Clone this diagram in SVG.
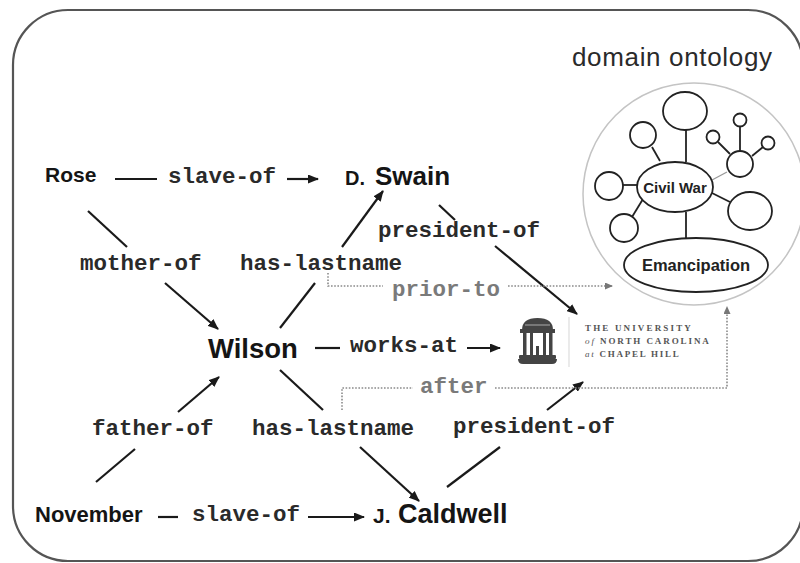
<svg xmlns="http://www.w3.org/2000/svg" width="800" height="563" viewBox="0 0 800 563">
<defs>
<marker id="arr" markerWidth="11" markerHeight="9" refX="10" refY="4.5" orient="auto" markerUnits="userSpaceOnUse">
<path d="M0,0 L11,4.5 L0,9 Z" fill="#1a1a1a"/>
</marker>
<marker id="darr" markerWidth="8" markerHeight="7" refX="7" refY="3.5" orient="auto" markerUnits="userSpaceOnUse">
<path d="M0,0 L8,3.5 L0,7 Z" fill="#777"/>
</marker>
<style>
.name{font-family:"Liberation Sans",Arial,sans-serif;font-weight:bold;fill:#151515}
.lbl{font-family:"Liberation Mono","Courier New",monospace;font-weight:bold;font-size:22.5px;fill:#2a2a2a}
.glbl{font-family:"Liberation Mono","Courier New",monospace;font-weight:bold;font-size:22.5px;fill:#7a7a7a}
.ln{stroke:#1a1a1a;stroke-width:2.2;fill:none}
.dot{stroke:#8a8a8a;stroke-width:1.6;stroke-dasharray:1.6 1.6;fill:none}
.ont{stroke:#222;stroke-width:1.8;fill:#fff}
.ontl{stroke:#222;stroke-width:1.8}
.ot{font-family:"Liberation Sans",Arial,sans-serif;font-weight:bold;fill:#222;text-anchor:middle}
.logo{font-family:"Liberation Serif","Times New Roman",serif;font-weight:bold;font-size:9px;fill:#555}
</style>
</defs>
<rect x="13" y="10" width="790" height="551" rx="55" ry="55" fill="#fff" stroke="#555" stroke-width="2.2"/>

<g id="ontology">
<text x="572" y="66" font-family="Liberation Sans, Arial, sans-serif" font-size="26" fill="#2a2a2a" textLength="200">domain ontology</text>
<circle cx="694" cy="194" r="111" fill="none" stroke="#c4c4c4" stroke-width="1.5"/>
<line class="ontl" x1="686" y1="130" x2="686" y2="162"/>
<line class="ontl" x1="652" y1="147" x2="660" y2="161"/>
<line class="ontl" x1="623" y1="185" x2="638" y2="185"/>
<line class="ontl" x1="632" y1="217" x2="643" y2="199"/>
<line class="ontl" x1="686" y1="212" x2="686" y2="238"/>
<line x1="727" y1="172" x2="712" y2="180" stroke="#999" stroke-width="1.2"/>
<line class="ontl" x1="712" y1="193" x2="730" y2="202"/>
<line class="ontl" x1="740" y1="126" x2="740" y2="151"/>
<line class="ontl" x1="718" y1="142" x2="730" y2="154"/>
<line class="ontl" x1="763" y1="147" x2="752" y2="156"/>
<ellipse class="ont" cx="685" cy="111" rx="22" ry="19"/>
<circle class="ont" cx="643" cy="135" r="13"/>
<circle class="ont" cx="609" cy="186" r="14"/>
<circle class="ont" cx="624" cy="228" r="14"/>
<circle class="ont" cx="740" cy="164" r="13"/>
<circle class="ont" cx="740" cy="120" r="6.5"/>
<circle class="ont" cx="713" cy="137" r="6.5"/>
<circle class="ont" cx="768" cy="143" r="6.5"/>
<ellipse class="ont" cx="750" cy="211" rx="22" ry="19"/>
<ellipse class="ont" cx="675" cy="187" rx="38" ry="25"/>
<text class="ot" x="675" y="192.5" font-size="15">Civil War</text>
<ellipse class="ont" cx="696" cy="265" rx="72" ry="27"/>
<text class="ot" x="696" y="271" font-size="16.5">Emancipation</text>
</g>

<g id="connectors">
<line class="ln" x1="115" y1="179" x2="157" y2="179"/>
<line class="ln" x1="287" y1="179" x2="318" y2="179" marker-end="url(#arr)"/>
<line class="ln" x1="88" y1="211" x2="127" y2="247"/>
<line class="ln" x1="165" y1="283" x2="218" y2="329" marker-end="url(#arr)"/>
<line class="ln" x1="280" y1="328" x2="315" y2="283"/>
<line class="ln" x1="342" y1="247" x2="383" y2="191" marker-end="url(#arr)"/>
<line class="ln" x1="439" y1="205" x2="455" y2="220"/>
<line class="ln" x1="495" y1="246" x2="577" y2="314" marker-end="url(#arr)"/>
<line class="ln" x1="315" y1="348" x2="340" y2="348"/>
<line class="ln" x1="467" y1="348" x2="500" y2="348" marker-end="url(#arr)"/>
<line class="ln" x1="178" y1="412" x2="219" y2="377" marker-end="url(#arr)"/>
<line class="ln" x1="280" y1="370" x2="323" y2="410"/>
<line class="ln" x1="96" y1="482" x2="135" y2="449"/>
<line class="ln" x1="360" y1="447" x2="419" y2="501" marker-end="url(#arr)"/>
<line class="ln" x1="447" y1="487" x2="500" y2="447"/>
<line class="ln" x1="547" y1="410" x2="583" y2="382" marker-end="url(#arr)"/>
<line class="ln" x1="158" y1="517" x2="178" y2="517"/>
<line class="ln" x1="308" y1="517" x2="364" y2="517" marker-end="url(#arr)"/>
<path class="dot" d="M328,273 V286 H383"/>
<path class="dot" d="M508,286 H612" marker-end="url(#darr)"/>
<path class="dot" d="M342,410 V388 H413"/>
<path class="dot" d="M495,388 H727 V307" marker-end="url(#darr)"/>
</g>

<g id="labels">
<text class="lbl" x="168" y="183">slave-of</text>
<text class="lbl" x="80" y="270">mother-of</text>
<text class="lbl" x="240" y="270">has-lastname</text>
<text class="lbl" x="378" y="237">president-of</text>
<text class="glbl" x="392" y="296">prior-to</text>
<text class="lbl" x="350" y="352">works-at</text>
<text class="glbl" x="420" y="393">after</text>
<text class="lbl" x="92" y="435">father-of</text>
<text class="lbl" x="252" y="435">has-lastname</text>
<text class="lbl" x="453" y="433">president-of</text>
<text class="lbl" x="192" y="521">slave-of</text>
</g>

<g id="node-rose"><text class="name" x="45" y="182" font-size="21">Rose</text></g>
<g id="node-swain"><text class="name" x="345" y="185" font-size="20">D.</text><text class="name" x="375" y="185" font-size="26">Swain</text></g>
<g id="node-wilson"><text class="name" x="208" y="358" font-size="27.5">Wilson</text></g>
<g id="node-november"><text class="name" x="35" y="522" font-size="22">November</text></g>
<g id="node-caldwell"><text class="name" x="373" y="523" font-size="21">J.</text><text class="name" x="398" y="523" font-size="27">Caldwell</text></g>

<g id="node-unc">
<path d="M522,330 Q522,318 537.5,318 Q553,318 553,330 Z" fill="#444"/>
<path d="M525,325 H550" stroke="#aaa" stroke-width="1"/>
<rect x="520" y="329" width="35" height="4" fill="#444"/>
<rect x="523" y="333" width="3.5" height="22" fill="#444"/>
<rect x="530" y="333" width="3" height="22" fill="#444"/>
<rect x="543" y="333" width="3" height="22" fill="#444"/>
<rect x="549" y="333" width="3.5" height="22" fill="#444"/>
<rect x="536" y="346" width="3" height="9" fill="#444"/>
<rect x="519" y="355" width="37" height="4" rx="1" fill="#444"/>
<path d="M518,359 H557 Q557,364 552,364 H523 Q518,364 518,359 Z" fill="#444"/>
<line x1="569" y1="317" x2="569" y2="367" stroke="#ddd" stroke-width="1.2"/>
<text class="logo" x="585" y="331" textLength="107" letter-spacing="1.2">THE UNIVERSITY</text>
<text class="logo" x="585" y="344" textLength="125" letter-spacing="1.2"><tspan font-style="italic" font-weight="normal">of</tspan> NORTH CAROLINA</text>
<text class="logo" x="585" y="357" textLength="95" letter-spacing="1.2"><tspan font-style="italic" font-weight="normal">at</tspan> CHAPEL HILL</text>
</g>
</svg>
